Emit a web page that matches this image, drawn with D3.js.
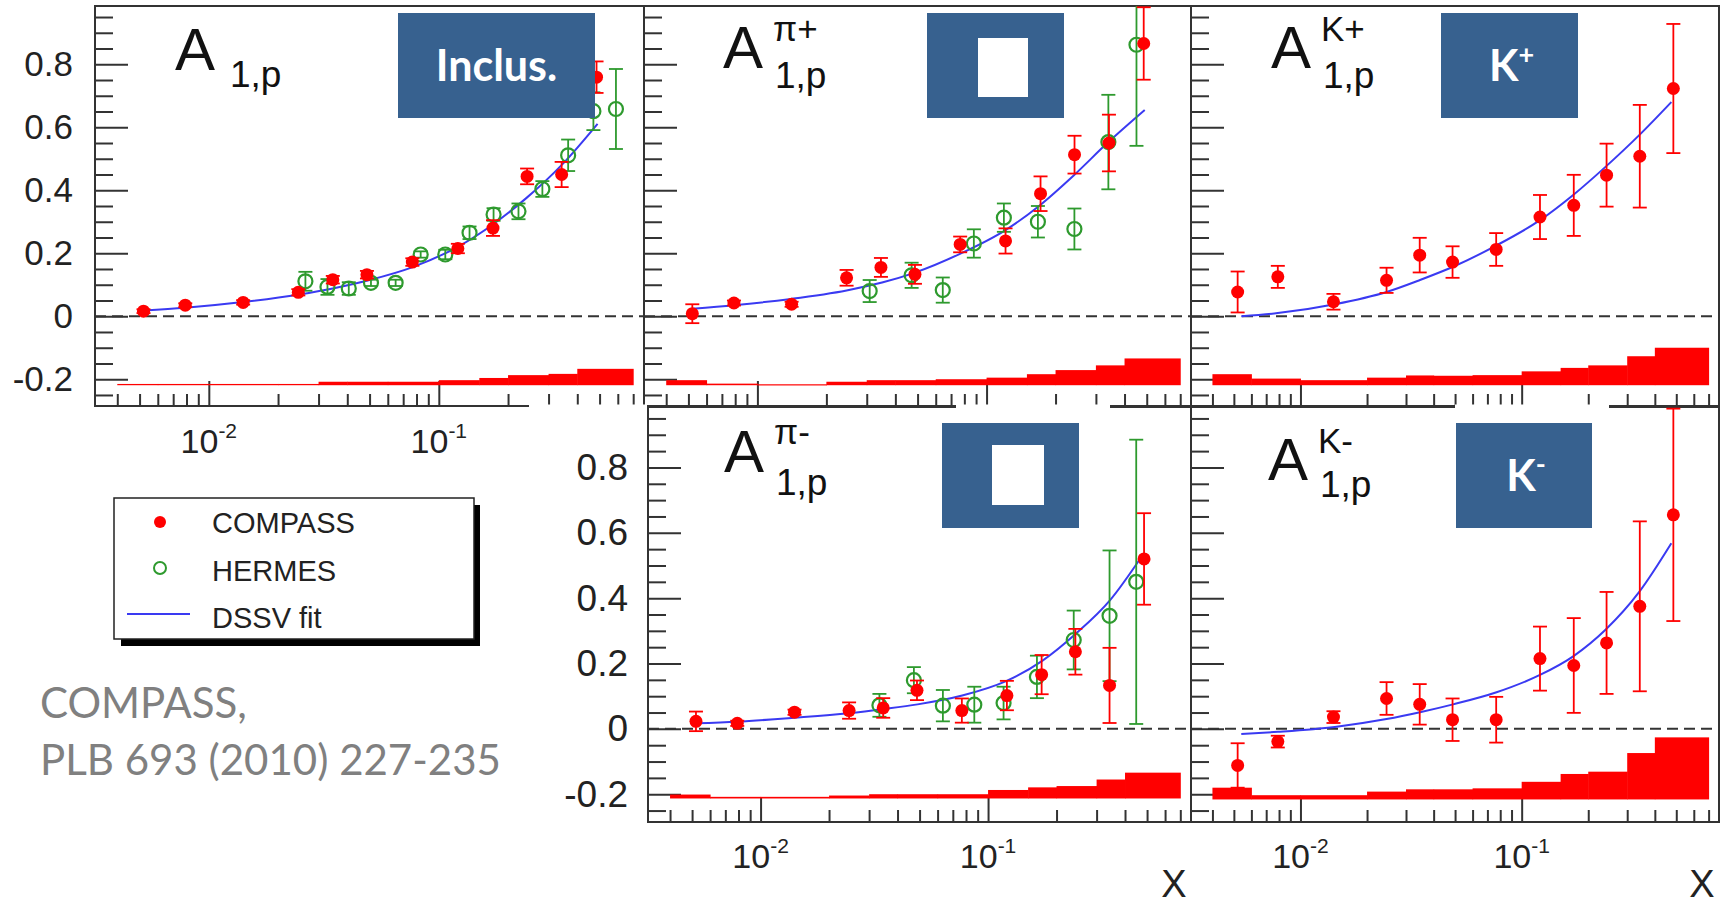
<!DOCTYPE html>
<html>
<head>
<meta charset="utf-8">
<script src="https://cdn.jsdelivr.net/npm/d3@7"></script>
<style>
  body { margin: 0; background: #fff; }
  svg { display: block; }
</style>
</head>
<body>
<div id="chart"></div>
<script>
// ---- Data ----
// COMPASS x bins and bin centres
const binEdges = [0.004, 0.006, 0.01, 0.02, 0.03, 0.04, 0.06, 0.1, 0.15, 0.2, 0.3, 0.4, 0.7];
const compassX = [0.0052, 0.0079, 0.0141, 0.0245, 0.0346, 0.0487, 0.0767, 0.121, 0.172, 0.242, 0.342, 0.485];

// Inclusive A1p
const inclCompassY = [0.016, 0.035, 0.044, 0.076, 0.116, 0.132, 0.172, 0.215, 0.28, 0.444, 0.45, 0.759];
const inclCompassErr = [0.006, 0.006, 0.007, 0.01, 0.012, 0.012, 0.012, 0.015, 0.025, 0.025, 0.04, 0.05];
const inclHermesX = [0.0263, 0.0328, 0.0406, 0.0507, 0.0649, 0.0834, 0.1067, 0.136, 0.173, 0.222, 0.282, 0.365, 0.47, 0.589];
const inclHermesY = [0.111, 0.093, 0.088, 0.106, 0.106, 0.196, 0.196, 0.265, 0.323, 0.333, 0.404, 0.511, 0.651, 0.658];
const inclHermesErr = [0.03, 0.025, 0.02, 0.01, 0.01, 0.01, 0.015, 0.02, 0.02, 0.025, 0.025, 0.05, 0.06, 0.127];
const inclFitX = [0.0052, 0.0079, 0.0141, 0.0247, 0.035, 0.05, 0.077, 0.122, 0.173, 0.24, 0.345, 0.49];
const inclFitY = [0.018, 0.027, 0.045, 0.069, 0.089, 0.115, 0.156, 0.222, 0.293, 0.375, 0.483, 0.611];
const inclSysBase = -0.219;
const inclSys = [0.004, 0.004, 0.004, 0.004, 0.011, 0.011, 0.011, 0.016, 0.023, 0.032, 0.036, 0.052];

// pi+ A1p
const pipCompassY = [0.008, 0.042, 0.038, 0.122, 0.155, 0.133, 0.228, 0.239, 0.389, 0.513, 0.55, 0.866];
const pipCompassErr = [0.03, 0.008, 0.008, 0.025, 0.03, 0.03, 0.025, 0.04, 0.055, 0.06, 0.09, 0.115];
const pipHermesX = [0.0309, 0.0471, 0.0644, 0.088, 0.119, 0.1675, 0.2417, 0.34, 0.451];
const pipHermesY = [0.08, 0.13, 0.083, 0.231, 0.313, 0.3, 0.277, 0.553, 0.862];
const pipHermesErr = [0.035, 0.04, 0.04, 0.045, 0.045, 0.05, 0.065, 0.15, 0.321];
const pipFitX = [0.0052, 0.0079, 0.014, 0.0245, 0.035, 0.048, 0.077, 0.12, 0.17, 0.24, 0.34, 0.49];
const pipFitY = [0.024, 0.035, 0.055, 0.082, 0.107, 0.137, 0.199, 0.272, 0.351, 0.447, 0.553, 0.655];
const pipSysBase = -0.219;
const pipSys = [0.016, 0.005, 0.003, 0.011, 0.016, 0.016, 0.019, 0.024, 0.035, 0.048, 0.063, 0.085];

// K+ A1p
const kpCompassY = [0.077, 0.125, 0.046, 0.114, 0.194, 0.172, 0.212, 0.315, 0.352, 0.448, 0.508, 0.723];
const kpCompassErr = [0.065, 0.035, 0.025, 0.04, 0.055, 0.05, 0.052, 0.07, 0.097, 0.1, 0.163, 0.205];
const kpFitX = [0.0054, 0.0079, 0.0143, 0.0245, 0.0347, 0.049, 0.077, 0.121, 0.171, 0.24, 0.34, 0.475];
const kpFitY = [0.0, 0.01, 0.038, 0.077, 0.115, 0.157, 0.225, 0.305, 0.385, 0.475, 0.575, 0.68];
const kpSysBase = -0.219;
const kpSys = [0.035, 0.021, 0.016, 0.024, 0.031, 0.03, 0.032, 0.044, 0.055, 0.063, 0.092, 0.119];

// pi- A1p
const pimCompassY = [0.023, 0.017, 0.051, 0.056, 0.064, 0.118, 0.056, 0.102, 0.166, 0.236, 0.133, 0.52];
const pimCompassErr = [0.03, 0.008, 0.008, 0.025, 0.03, 0.03, 0.037, 0.045, 0.06, 0.07, 0.115, 0.14];
const pimHermesX = [0.0333, 0.0472, 0.0633, 0.087, 0.117, 0.164, 0.238, 0.342, 0.448];
const pimHermesY = [0.072, 0.149, 0.071, 0.074, 0.079, 0.159, 0.272, 0.346, 0.45];
const pimHermesErr = [0.035, 0.04, 0.048, 0.055, 0.05, 0.065, 0.09, 0.2, 0.435];
const pimFitX = [0.0052, 0.0079, 0.014, 0.0244, 0.035, 0.049, 0.077, 0.12, 0.173, 0.243, 0.344, 0.472];
const pimFitY = [0.017, 0.022, 0.034, 0.048, 0.061, 0.075, 0.102, 0.146, 0.208, 0.291, 0.394, 0.526];
const pimSysBase = -0.213;
const pimSys = [0.012, 0.005, 0.005, 0.009, 0.013, 0.013, 0.013, 0.026, 0.034, 0.038, 0.058, 0.079];

// K- A1p
const kmCompassY = [-0.112, -0.039, 0.036, 0.093, 0.075, 0.028, 0.028, 0.215, 0.194, 0.263, 0.375, 0.655];
const kmCompassErr = [0.068, 0.018, 0.018, 0.05, 0.062, 0.065, 0.07, 0.098, 0.145, 0.156, 0.26, 0.325];
const kmFitX = [0.0054, 0.0079, 0.0143, 0.0245, 0.0347, 0.049, 0.077, 0.121, 0.171, 0.24, 0.34, 0.475];
const kmFitY = [-0.016, -0.009, 0.006, 0.03, 0.051, 0.075, 0.112, 0.165, 0.222, 0.304, 0.419, 0.568];
const kmSysBase = -0.216;
const kmSys = [0.036, 0.013, 0.013, 0.024, 0.031, 0.031, 0.034, 0.054, 0.078, 0.085, 0.142, 0.19];

// Axes
const xDomain = [0.0032, 0.78];
const yDomain = [-0.285, 0.985];
const yMajor = [-0.2, 0, 0.2, 0.4, 0.6, 0.8];
const yTickLabels = ['-0.2', '0', '0.2', '0.4', '0.6', '0.8'];
const yMinor = [-0.25, -0.15, -0.1, -0.05, 0.05, 0.1, 0.15, 0.25, 0.3, 0.35, 0.45, 0.5, 0.55, 0.65, 0.7, 0.75, 0.85, 0.9, 0.95];
const xMajor = [0.01, 0.1];
const xTickExp = ['-2', '-1'];
const xMinor = [0.004, 0.005, 0.006, 0.007, 0.008, 0.009, 0.02, 0.03, 0.04, 0.05, 0.06, 0.07, 0.08, 0.09, 0.2, 0.3, 0.4, 0.5, 0.6, 0.7];

const legendLabels = ['COMPASS', 'HERMES', 'DSSV fit'];
const noteLines = ['COMPASS,', 'PLB 693 (2010) 227-235'];

// ---- Layout ----
const panels = [
    { left: 95, right: 644, top: 6, bottom: 406, yLabels: true, labelPad: 22, labelSize: 35, xLabelY: 453,
      title: { x: 175, base: 70, sup: '', subBase: 87 },
      box: { x: 398, y: 13, w: 197, h: 105, text: 'Inclus.', sup: '' },
      compassY: inclCompassY, compassErr: inclCompassErr,
      hermesX: inclHermesX, hermesY: inclHermesY, hermesErr: inclHermesErr,
      fitX: inclFitX, fitY: inclFitY, sysBase: inclSysBase, sys: inclSys },
    { left: 644, right: 1191, top: 6, bottom: 406, yLabels: false, xLabelY: null,
      title: { x: 723, base: 68, sup: 'π+', supBase: 41, subBase: 88 },
      box: { x: 927, y: 13, w: 137, h: 105, inner: { x: 978, y: 38, w: 50, h: 59 } },
      compassY: pipCompassY, compassErr: pipCompassErr,
      hermesX: pipHermesX, hermesY: pipHermesY, hermesErr: pipHermesErr,
      fitX: pipFitX, fitY: pipFitY, sysBase: pipSysBase, sys: pipSys },
    { left: 1191, right: 1719, top: 6, bottom: 406, yLabels: false, xLabelY: null,
      title: { x: 1271, base: 68, sup: 'K+', supBase: 41, subBase: 88 },
      box: { x: 1441, y: 13, w: 137, h: 105, text: 'K', sup: '+' },
      compassY: kpCompassY, compassErr: kpCompassErr,
      fitX: kpFitX, fitY: kpFitY, sysBase: kpSysBase, sys: kpSys },
    { left: 648, right: 1191, top: 407, bottom: 822, yLabels: true, labelPad: 20, labelSize: 37, xLabelY: 868,
      title: { x: 724, base: 472, sup: 'π-', supBase: 444, subBase: 495 },
      box: { x: 942, y: 423, w: 137, h: 105, inner: { x: 992, y: 445, w: 52, h: 60 } },
      xTitle: { x: 1174, y: 897 },
      compassY: pimCompassY, compassErr: pimCompassErr,
      hermesX: pimHermesX, hermesY: pimHermesY, hermesErr: pimHermesErr,
      fitX: pimFitX, fitY: pimFitY, sysBase: pimSysBase, sys: pimSys },
    { left: 1191, right: 1719, top: 407, bottom: 822, yLabels: false, xLabelY: 868,
      title: { x: 1268, base: 480, sup: 'K-', supBase: 453, subBase: 497 },
      box: { x: 1456, y: 423, w: 136, h: 105, text: 'K', sup: '-' },
      xTitle: { x: 1702, y: 897 },
      compassY: kmCompassY, compassErr: kmCompassErr,
      fitX: kmFitX, fitY: kmFitY, sysBase: kmSysBase, sys: kmSys }
];

const rootFont = "'Liberation Sans', Arial, Helvetica, sans-serif";
const slideFont = "Lato, 'Open Sans', sans-serif";
const red = '#ff0000';
const green = '#2e9a2e';
const blue = '#3a3af2';
const boxBlue = '#37618f';
const ink = '#222';

const svg = d3.select('#chart')
    .append('svg')
    .attr('width', 1723)
    .attr('height', 906);
const defs = svg.append('defs');

const frameLayer = svg.append('g');
const dataLayer = svg.append('g');
const textLayer = svg.append('g');

panels.forEach((p, i) => {
    const x = d3.scaleLog().domain(xDomain).range([p.left, p.right]);
    const y = d3.scaleLinear().domain(yDomain).range([p.bottom, p.top]);

    // frame and ticks
    const g = frameLayer.append('g');
    g.append('rect')
        .attr('x', p.left).attr('y', p.top)
        .attr('width', p.right - p.left).attr('height', p.bottom - p.top)
        .attr('fill', 'none').attr('stroke', '#333').attr('stroke-width', 2);

    const yMinorAxis = d3.axisLeft(y).tickValues(yMinor).tickSize(-18).tickSizeOuter(0).tickFormat('');
    const yMajorAxis = d3.axisLeft(y).tickValues(yMajor).tickSize(-33).tickSizeOuter(0)
        .tickPadding(p.labelPad || 20)
        .tickFormat((d, k) => p.yLabels ? yTickLabels[k] : '');
    const xMinorAxis = d3.axisBottom(x).tickValues(xMinor).tickSize(-12).tickSizeOuter(0).tickFormat('');
    const xMajorAxis = d3.axisBottom(x).tickValues(xMajor).tickSize(-25).tickSizeOuter(0).tickFormat('');

    [[yMinorAxis, `translate(${p.left},0)`], [yMajorAxis, `translate(${p.left},0)`],
     [xMinorAxis, `translate(0,${p.bottom})`], [xMajorAxis, `translate(0,${p.bottom})`]].forEach(([ax, tr]) => {
        const a = g.append('g').attr('transform', tr).call(ax);
        a.select('.domain').remove();
        a.selectAll('line').attr('stroke', '#333').attr('stroke-width', 2);
        a.selectAll('text')
            .attr('fill', ink)
            .style('font-family', rootFont)
            .style('font-size', (p.labelSize || 34) + 'px');
    });

    // x tick labels 10^n
    if (p.xLabelY) {
        xMajor.forEach((v, k) => {
            const t = textLayer.append('text')
                .attr('x', x(v))
                .attr('y', p.xLabelY)
                .attr('text-anchor', 'middle')
                .attr('fill', ink)
                .style('font-family', rootFont)
                .style('font-size', '34px');
            t.append('tspan').text('10');
            t.append('tspan').attr('dy', -15).style('font-size', '21px').text(xTickExp[k]);
        });
    }
    if (p.xTitle) {
        textLayer.append('text')
            .attr('x', p.xTitle.x).attr('y', p.xTitle.y)
            .attr('text-anchor', 'middle')
            .attr('fill', ink)
            .style('font-family', rootFont)
            .style('font-size', '38px')
            .text('X');
    }

    // data, clipped to the frame
    const clipId = 'clip' + i;
    defs.append('clipPath').attr('id', clipId)
        .append('rect')
        .attr('x', p.left).attr('y', p.top)
        .attr('width', p.right - p.left).attr('height', p.bottom - p.top);
    const d = dataLayer.append('g').attr('clip-path', `url(#${clipId})`);

    // systematic band
    d.selectAll('.sys')
        .data(p.sys)
        .enter()
        .append('rect')
        .attr('class', 'sys')
        .attr('x', (s, k) => x(binEdges[k]))
        .attr('width', (s, k) => x(binEdges[k + 1]) - x(binEdges[k]) + 0.5)
        .attr('y', s => y(p.sysBase + s))
        .attr('height', s => Math.max(1.2, y(p.sysBase) - y(p.sysBase + s)))
        .attr('fill', red);

    // zero line
    d.append('line')
        .attr('x1', p.left).attr('x2', p.right)
        .attr('y1', y(0)).attr('y2', y(0))
        .attr('stroke', '#333').attr('stroke-width', 2)
        .attr('stroke-dasharray', '11,6');

    // DSSV fit
    const fit = p.fitX.map((v, k) => [v, p.fitY[k]]);
    d.append('path')
        .datum(fit)
        .attr('fill', 'none')
        .attr('stroke', blue)
        .attr('stroke-width', 2)
        .attr('d', d3.line().x(q => x(q[0])).y(q => y(q[1])).curve(d3.curveMonotoneX));

    function errorBars(xs, ys, es, color) {
        const pts = xs.map((v, k) => ({ x: v, y: ys[k], e: es[k] }));
        const eg = d.append('g').attr('stroke', color).attr('stroke-width', 1.8);
        eg.selectAll('.ev').data(pts).enter().append('line')
            .attr('x1', q => x(q.x)).attr('x2', q => x(q.x))
            .attr('y1', q => y(q.y - q.e)).attr('y2', q => y(q.y + q.e));
        eg.selectAll('.ct').data(pts).enter().append('line')
            .attr('x1', q => x(q.x) - 7).attr('x2', q => x(q.x) + 7)
            .attr('y1', q => y(q.y + q.e)).attr('y2', q => y(q.y + q.e));
        eg.selectAll('.cb').data(pts).enter().append('line')
            .attr('x1', q => x(q.x) - 7).attr('x2', q => x(q.x) + 7)
            .attr('y1', q => y(q.y - q.e)).attr('y2', q => y(q.y - q.e));
        return pts;
    }

    if (p.hermesX) {
        const hp = errorBars(p.hermesX, p.hermesY, p.hermesErr, green);
        d.selectAll('.herm').data(hp).enter().append('circle')
            .attr('cx', q => x(q.x)).attr('cy', q => y(q.y)).attr('r', 7)
            .attr('fill', 'none').attr('stroke', green).attr('stroke-width', 2.2);
    }
    const cp = errorBars(compassX, p.compassY, p.compassErr, red);
    d.selectAll('.comp').data(cp).enter().append('circle')
        .attr('cx', q => x(q.x)).attr('cy', q => y(q.y)).attr('r', 6.5)
        .attr('fill', red);

    // panel title A^{h}_{1,p}
    const tt = p.title;
    textLayer.append('text')
        .attr('x', tt.x).attr('y', tt.base)
        .attr('fill', '#111')
        .style('font-family', rootFont).style('font-size', '60px')
        .text('A');
    const sx = tt.x + 50;
    if (tt.sup) {
        textLayer.append('text')
            .attr('x', sx).attr('y', tt.supBase)
            .attr('fill', '#111')
            .style('font-family', rootFont).style('font-size', '35px')
            .text(tt.sup);
    }
    textLayer.append('text')
        .attr('x', tt.sup ? sx + 2 : sx + 5).attr('y', tt.subBase)
        .attr('fill', '#111')
        .style('font-family', rootFont).style('font-size', '37px')
        .text('1,p');

    // blue label box
    const b = p.box;
    textLayer.append('rect')
        .attr('x', b.x).attr('y', b.y).attr('width', b.w).attr('height', b.h)
        .attr('fill', boxBlue);
    if (b.inner) {
        textLayer.append('rect')
            .attr('x', b.inner.x).attr('y', b.inner.y).attr('width', b.inner.w).attr('height', b.inner.h)
            .attr('fill', '#fff');
    }
    if (b.text) {
        const bt = textLayer.append('text')
            .attr('x', b.x + b.w / 2 + (b.sup ? 2 : 0))
            .attr('y', b.y + b.h / 2 + 15)
            .attr('text-anchor', 'middle')
            .attr('fill', '#fff')
            .style('font-family', slideFont)
            .style('font-weight', 700)
            .style('font-size', '43px')
            .text(b.text);
        if (b.sup) {
            bt.append('tspan').attr('dy', -17).style('font-size', '27px').text(b.sup);
        }
    }
});

// gaps where the pasted bottom row hides the shared frame line
const frameGaps = [[529, 647], [956, 1110], [1455, 1609]];
frameLayer.selectAll('.gap')
    .data(frameGaps)
    .enter()
    .append('rect')
    .attr('x', g => g[0]).attr('width', g => g[1] - g[0])
    .attr('y', 404.5).attr('height', 4.5)
    .attr('fill', '#fff');

// Legend
const legend = svg.append('g');
legend.append('rect')
    .attr('x', 121).attr('y', 505).attr('width', 359).attr('height', 141)
    .attr('fill', '#000');
legend.append('rect')
    .attr('x', 114).attr('y', 498).attr('width', 360).attr('height', 141)
    .attr('fill', '#fff').attr('stroke', '#222').attr('stroke-width', 1.5);
legend.append('circle').attr('cx', 160).attr('cy', 522).attr('r', 6).attr('fill', red);
legend.append('circle').attr('cx', 160).attr('cy', 568).attr('r', 6)
    .attr('fill', 'none').attr('stroke', green).attr('stroke-width', 2);
legend.append('line').attr('x1', 127).attr('x2', 190).attr('y1', 614).attr('y2', 614)
    .attr('stroke', blue).attr('stroke-width', 2);
legend.selectAll('.lt')
    .data(legendLabels)
    .enter()
    .append('text')
    .attr('x', 212)
    .attr('y', (t, k) => 533 + k * 47.5)
    .attr('fill', ink)
    .style('font-family', rootFont)
    .style('font-size', '29px')
    .text(t => t);

// Reference note
svg.selectAll('.note')
    .data(noteLines)
    .enter()
    .append('text')
    .attr('x', 40)
    .attr('y', (t, k) => 718 + k * 57)
    .attr('fill', '#808080')
    .style('font-family', slideFont)
    .style('font-size', '42px')
    .text(t => t);
</script>
</body>
</html>
